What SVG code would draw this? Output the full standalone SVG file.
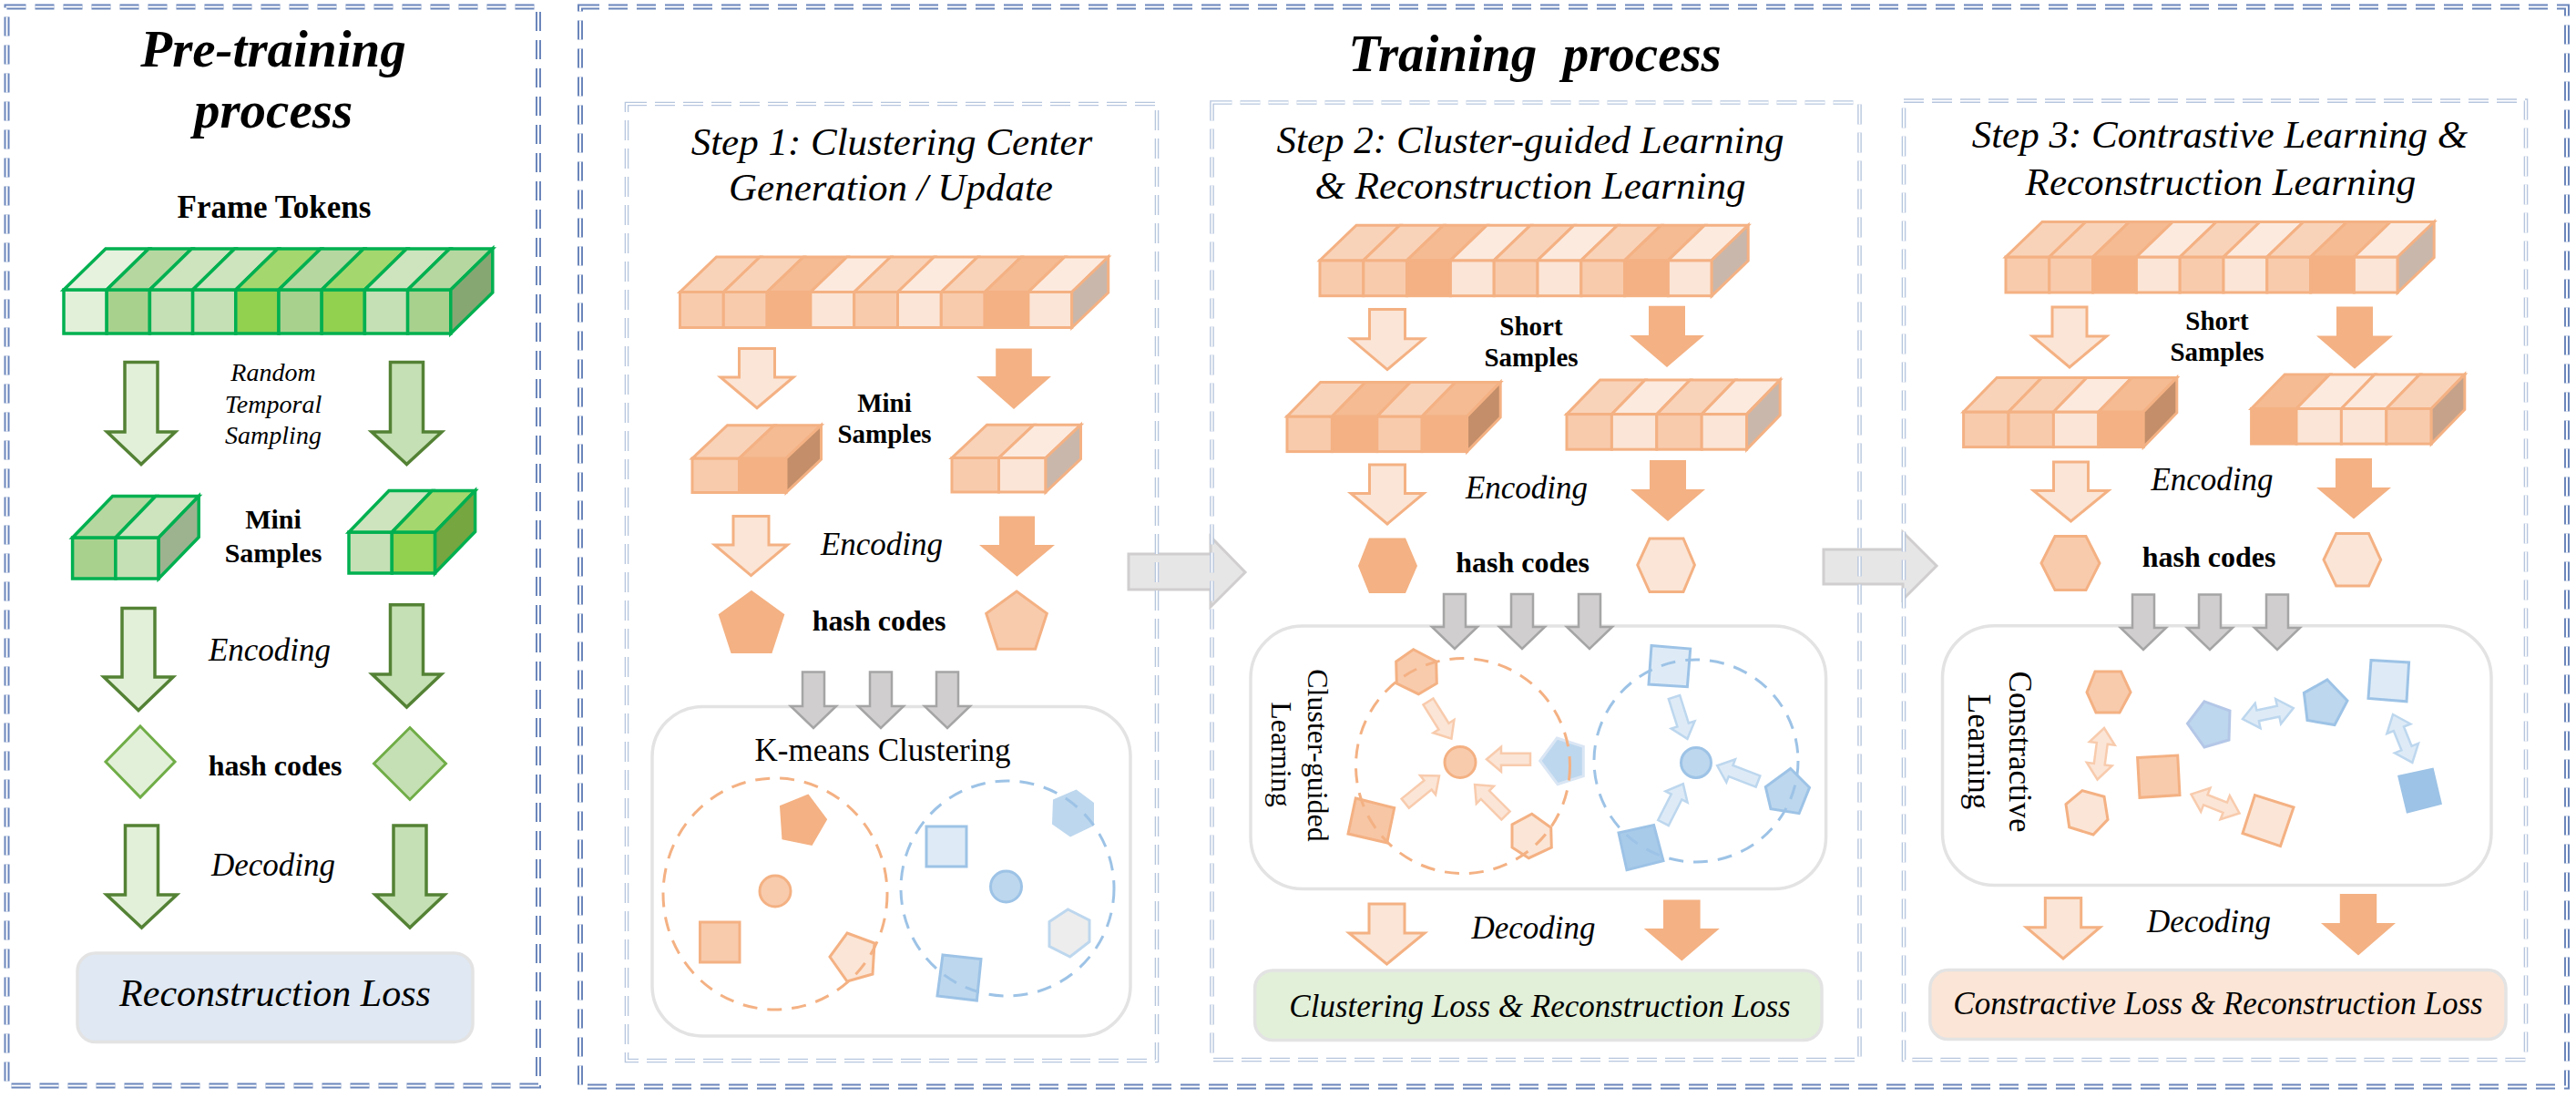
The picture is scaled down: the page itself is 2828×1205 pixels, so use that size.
<svg xmlns="http://www.w3.org/2000/svg" xmlns:xlink="http://www.w3.org/1999/xlink" width="2828" height="1205" viewBox="0 0 2828 1205">
<style>
text{font-family:"Liberation Serif","Times New Roman",serif;fill:#000}
.bi{font-weight:bold;font-style:italic}
.it{font-style:italic}
.b{font-weight:bold}
.ob{fill:none;stroke:#6b86bb;stroke-width:6;stroke-dasharray:21 10}
.obw{fill:none;stroke:#fff;stroke-width:2;stroke-dasharray:21 10}
.sb{fill:none;stroke:#b7c6de;stroke-width:4.6;stroke-dasharray:22 9}
.sbw{fill:none;stroke:#fff;stroke-width:1.8;stroke-dasharray:22 9}
.gc{stroke:#00B050;stroke-width:3.5}
.oc{stroke:#F4B183;stroke-width:3}
.ga{stroke:#548235;stroke-width:3.5}
.oao{fill:#FBE5D6;stroke:#F4B183;stroke-width:3}
.oas{fill:#F4B183}
.gr{fill:#D0CECE;stroke:#A5A5A5;stroke-width:2.5}
.big{fill:#E7E6E6;stroke:#D0CECE;stroke-width:3}
.panel{fill:#fff;stroke:#E3E3E3;stroke-width:3.5}
.os{stroke:#F4B183;stroke-width:3}
.bs{stroke:#9DC3E6;stroke-width:3}
.odash{fill:none;stroke:#F4B183;stroke-width:3;stroke-dasharray:16 11}
.bdash{fill:none;stroke:#9DC3E6;stroke-width:3;stroke-dasharray:16 11}
.la{fill:#FBE5D6;stroke:#F8CBAD;stroke-width:2.5}
.lb{fill:#DEEBF7;stroke:#BDD7EE;stroke-width:2.5}
</style>
<defs>
<g id="strip9" class="oc">
<rect x="0" y="0" width="47.8" height="39" fill="#F8CBAD"/>
<rect x="47.8" y="0" width="47.8" height="39" fill="#F8CBAD"/>
<rect x="95.6" y="0" width="47.8" height="39" fill="#F4B183"/>
<rect x="143.4" y="0" width="47.8" height="39" fill="#FBE5D6"/>
<rect x="191.2" y="0" width="47.8" height="39" fill="#F8CBAD"/>
<rect x="239" y="0" width="47.8" height="39" fill="#FBE5D6"/>
<rect x="286.8" y="0" width="47.8" height="39" fill="#F8CBAD"/>
<rect x="334.6" y="0" width="47.8" height="39" fill="#F4B183"/>
<rect x="382.4" y="0" width="47.8" height="39" fill="#FBE5D6"/>
<polygon points="0,0 47.8,0 87.8,-38.5 40,-38.5" fill="#F9D3B9"/>
<polygon points="47.8,0 95.6,0 135.6,-38.5 87.8,-38.5" fill="#F9D3B9"/>
<polygon points="95.6,0 143.4,0 183.4,-38.5 135.6,-38.5" fill="#F5BB93"/>
<polygon points="143.4,0 191.2,0 231.2,-38.5 183.4,-38.5" fill="#FCEADF"/>
<polygon points="191.2,0 239,0 279,-38.5 231.2,-38.5" fill="#F9D3B9"/>
<polygon points="239,0 286.8,0 326.8,-38.5 279,-38.5" fill="#FCEADF"/>
<polygon points="286.8,0 334.6,0 374.6,-38.5 326.8,-38.5" fill="#F9D3B9"/>
<polygon points="334.6,0 382.4,0 422.4,-38.5 374.6,-38.5" fill="#F5BB93"/>
<polygon points="382.4,0 430.2,0 470.2,-38.5 422.4,-38.5" fill="#FCEADF"/>
<polygon points="430.2,0 470.2,-38.5 470.2,0.5 430.2,39" fill="#C9B7AB"/>
</g>
<polygon id="sa" points="0,-6.5 32,-6.5 32,-13.5 48,0 32,13.5 32,6.5 0,6.5"/>
<polygon id="da" points="0,0 17,-14 17,-6 40,-6 40,-14 57,0 40,14 40,6 17,6 17,14"/>
</defs>

<g id="connectors">
<polygon class="big" points="1239,608 1329,608 1329,589 1367,628 1329,666 1329,647 1239,647"/>
<polygon class="big" points="2002,603 2089,603 2089,584 2126,621 2089,658 2089,641 2002,641"/>
</g>

<g id="frames">
<rect class="ob" x="7.5" y="7.5" width="583.5" height="1184"/>
<rect class="obw" x="7.5" y="7.5" width="583.5" height="1184"/>
<rect class="ob" x="637" y="7.5" width="2181" height="1185"/>
<rect class="obw" x="637" y="7.5" width="2181" height="1185"/>
<rect class="sb" x="688" y="114" width="582" height="1050"/>
<rect class="sbw" x="688" y="114" width="582" height="1050"/>
<rect class="sb" x="1330.5" y="112.5" width="711" height="1050.5"/>
<rect class="sbw" x="1330.5" y="112.5" width="711" height="1050.5"/>
<rect class="sb" x="2090" y="110.6" width="683" height="1052.4"/>
<rect class="sbw" x="2090" y="110.6" width="683" height="1052.4"/>
</g>

<g id="titles">
<text class="bi" x="300" y="73" font-size="57" text-anchor="middle">Pre-training</text>
<text class="bi" x="300" y="140" font-size="57" text-anchor="middle">process</text>
<text class="bi" x="1685" y="78" font-size="57" text-anchor="middle" xml:space="preserve">Training  process</text>
<text class="it" x="979" y="170" font-size="43" text-anchor="middle">Step 1: Clustering Center</text>
<text class="it" x="978" y="220" font-size="43" text-anchor="middle">Generation / Update</text>
<text class="it" x="1680" y="168" font-size="43" text-anchor="middle">Step 2: Cluster-guided Learning</text>
<text class="it" x="1680" y="218" font-size="43" text-anchor="middle">&amp; Reconstruction Learning</text>
<text class="it" x="2437" y="162" font-size="43" text-anchor="middle">Step 3: Contrastive Learning &amp;</text>
<text class="it" x="2438" y="214" font-size="43" text-anchor="middle">Reconstruction Learning</text>
</g>

<!-- Pre-training -->
<g id="pre-frame-tokens">
<text class="b" x="301" y="239" font-size="35" text-anchor="middle">Frame Tokens</text>
<g transform="translate(70,318)" class="gc">
<rect x="0" y="0" width="47.2" height="48" fill="#E2F0D9"/>
<rect x="47.2" y="0" width="47.2" height="48" fill="#A9D18E"/>
<rect x="94.4" y="0" width="47.2" height="48" fill="#C5E0B4"/>
<rect x="141.6" y="0" width="47.2" height="48" fill="#C5E0B4"/>
<rect x="188.8" y="0" width="47.2" height="48" fill="#92D050"/>
<rect x="236" y="0" width="47.2" height="48" fill="#A9D18E"/>
<rect x="283.2" y="0" width="47.2" height="48" fill="#92D050"/>
<rect x="330.4" y="0" width="47.2" height="48" fill="#C5E0B4"/>
<rect x="377.6" y="0" width="47.2" height="48" fill="#A9D18E"/>
<polygon points="0,0 47.2,0 93.2,-45 46,-45" fill="#E6F2DE"/>
<polygon points="47.2,0 94.4,0 140.4,-45 93.2,-45" fill="#B6D8A0"/>
<polygon points="94.4,0 141.6,0 187.6,-45 140.4,-45" fill="#CDE4BE"/>
<polygon points="141.6,0 188.8,0 234.8,-45 187.6,-45" fill="#CDE4BE"/>
<polygon points="188.8,0 236,0 282,-45 234.8,-45" fill="#A4D86E"/>
<polygon points="236,0 283.2,0 329.2,-45 282,-45" fill="#B6D8A0"/>
<polygon points="283.2,0 330.4,0 376.4,-45 329.2,-45" fill="#A4D86E"/>
<polygon points="330.4,0 377.6,0 423.6,-45 376.4,-45" fill="#CDE4BE"/>
<polygon points="377.6,0 424.8,0 470.8,-45 423.6,-45" fill="#B6D8A0"/>
<polygon points="424.8,0 470.8,-45 470.8,3 424.8,48" fill="#87A772"/>
</g>
</g>
<g id="pre-sampling-label">
<text class="it" x="300" y="418" font-size="28" text-anchor="middle">Random</text>
<text class="it" x="300" y="452.7" font-size="28" text-anchor="middle">Temporal</text>
<text class="it" x="300" y="487" font-size="28" text-anchor="middle">Sampling</text>
</g>
<g id="pre-mini-samples">
<g transform="translate(79.6,590)" class="gc">
<rect x="0" y="0" width="47.3" height="45" fill="#A9D18E"/>
<rect x="47.3" y="0" width="47.3" height="45" fill="#C5E0B4"/>
<polygon points="0,0 47.3,0 91.3,-45.5 44,-45.5" fill="#B6D8A0"/>
<polygon points="47.3,0 94.6,0 138.6,-45.5 91.3,-45.5" fill="#CDE4BE"/>
<polygon points="94.6,0 138.6,-45.5 138.6,-0.5 94.6,45" fill="#9DB390"/>
</g>
<g transform="translate(383,584)" class="gc">
<rect x="0" y="0" width="47.3" height="45" fill="#C5E0B4"/>
<rect x="47.3" y="0" width="47.3" height="45" fill="#92D050"/>
<polygon points="0,0 47.3,0 91.3,-45.5 44,-45.5" fill="#CDE4BE"/>
<polygon points="47.3,0 94.6,0 138.6,-45.5 91.3,-45.5" fill="#A4D86E"/>
<polygon points="94.6,0 138.6,-45.5 138.6,-0.5 94.6,45" fill="#75A640"/>
</g>
<text class="b" x="300" y="580" font-size="30" text-anchor="middle">Mini</text>
<text class="b" x="300" y="617" font-size="30" text-anchor="middle">Samples</text>
</g>
<g id="pre-encoding-label"><text class="it" x="296" y="725" font-size="35" text-anchor="middle">Encoding</text></g>
<g id="pre-hash-codes">
<polygon points="154,797 192,836 154,875 116,836" fill="#E2F0D9" stroke="#70AD47" stroke-width="3"/>
<polygon points="450,798.5 489.5,838 450,877.5 410.5,838" fill="#C5E0B4" stroke="#70AD47" stroke-width="3"/>
<text class="b" x="302" y="851" font-size="32" text-anchor="middle">hash codes</text>
</g>
<g id="pre-decoding-label"><text class="it" x="300" y="961" font-size="35" text-anchor="middle">Decoding</text></g>
<g id="pre-loss">
<rect x="85" y="1046" width="434" height="97.5" rx="20" fill="#DFE8F3" stroke="#E3E3E3" stroke-width="3.5"/>
<text class="it" x="302" y="1104" font-size="42" text-anchor="middle">Reconstruction Loss</text>
</g>

<!-- Step 1 -->
<g id="s1-tokens"><use href="#strip9" transform="translate(746.5,320.5)"/></g>
<g id="s1-mini-samples">
<g transform="translate(760,503)" class="oc">
<rect x="0" y="0" width="51.5" height="37.5" fill="#F8CBAD"/>
<rect x="51.5" y="0" width="51.5" height="37.5" fill="#F4B183"/>
<polygon points="0,0 51.5,0 90,-36.3 38.5,-36.3" fill="#F9D3B9"/>
<polygon points="51.5,0 103,0 141.5,-36.3 90,-36.3" fill="#F5BB93"/>
<polygon points="103,0 141.5,-36.3 141.5,1.2 103,37.5" fill="#C38E69"/>
</g>
<g transform="translate(1045,502.5)" class="oc">
<rect x="0" y="0" width="51.5" height="37.5" fill="#F8CBAD"/>
<rect x="51.5" y="0" width="51.5" height="37.5" fill="#FBE5D6"/>
<polygon points="0,0 51.5,0 90,-36.3 38.5,-36.3" fill="#F9D3B9"/>
<polygon points="51.5,0 103,0 141.5,-36.3 90,-36.3" fill="#FCEADF"/>
<polygon points="103,0 141.5,-36.3 141.5,1.2 103,37.5" fill="#C9B7AB"/>
</g>
<text class="b" x="971" y="451.5" font-size="29" text-anchor="middle">Mini</text>
<text class="b" x="971" y="486" font-size="29" text-anchor="middle">Samples</text>
</g>
<g id="s1-encoding-label"><text class="it" x="968" y="608.5" font-size="35" text-anchor="middle">Encoding</text></g>
<g id="s1-hash-codes">
<polygon points="825,649 860.2,674.6 846.7,715.9 803.3,715.9 789.8,674.6" fill="#F4B183" stroke="#F4B183" stroke-width="2"/>
<polygon points="1116,649 1149.3,673.2 1136.6,712.3 1095.4,712.3 1082.7,673.2" fill="#F8CBAD" class="os"/>
<text class="b" x="965" y="692" font-size="32" text-anchor="middle">hash codes</text>
</g>
<g id="s1-kmeans">
<rect class="panel" x="716" y="775.5" width="525" height="361.5" rx="55"/>
<text x="969" y="835" font-size="35" text-anchor="middle">K-means Clustering</text>
<polygon points="887,872.6 907,899.4 891,927 859.4,920.5 857,885" fill="#F4B183" stroke="#F4B183" stroke-width="2"/>
<circle cx="851" cy="978" r="17" fill="#F8CBAD" class="os"/>
<rect x="768.5" y="1012" width="43.5" height="44" fill="#F8CBAD" class="os"/>
<polygon points="930,1024 960,1035 958,1069 930,1077 911,1050" fill="#FBE5D6" class="os"/>
<rect x="1017" y="907" width="44" height="44" fill="#DEEBF7" class="bs"/>
<polygon points="1181.6,866.6 1201,881 1201,906 1175,918.5 1155,904.5 1156,877.6" fill="#BDD7EE"/>
<circle cx="1104.5" cy="973" r="17" fill="#BDD7EE" class="bs"/>
<polygon points="1172.4,998 1196,1010 1196,1033.4 1174.7,1050 1152,1038.5 1152,1011.6" fill="#EDEDED" stroke="#BDD7EE" stroke-width="3"/>
<polygon points="1035,1048 1077,1052.5 1072.4,1098 1029,1093" fill="#BDD7EE" class="bs"/>
<ellipse class="odash" cx="851" cy="981" rx="123" ry="127"/>
<ellipse class="bdash" cx="1106" cy="975" rx="117" ry="118"/>
</g>

<!-- Step 2 -->
<g id="s2-tokens"><use href="#strip9" transform="translate(1449,285.7)"/></g>
<g id="s2-short-samples">
<g transform="translate(1413,457)" class="oc">
<rect x="0" y="0" width="49.4" height="38.6" fill="#F8CBAD"/>
<rect x="49.4" y="0" width="49.4" height="38.6" fill="#F4B183"/>
<rect x="98.8" y="0" width="49.4" height="38.6" fill="#F8CBAD"/>
<rect x="148.2" y="0" width="49.4" height="38.6" fill="#F4B183"/>
<polygon points="0,0 49.4,0 86,-37.6 36.6,-37.6" fill="#F9D3B9"/>
<polygon points="49.4,0 98.8,0 135.4,-37.6 86,-37.6" fill="#F5BB93"/>
<polygon points="98.8,0 148.2,0 184.8,-37.6 135.4,-37.6" fill="#F9D3B9"/>
<polygon points="148.2,0 197.6,0 234.2,-37.6 184.8,-37.6" fill="#F5BB93"/>
<polygon points="197.6,0 234.2,-37.6 234.2,1 197.6,38.6" fill="#C38E69"/>
</g>
<g transform="translate(1720,454.6)" class="oc">
<rect x="0" y="0" width="49.4" height="38.6" fill="#F8CBAD"/>
<rect x="49.4" y="0" width="49.4" height="38.6" fill="#FBE5D6"/>
<rect x="98.8" y="0" width="49.4" height="38.6" fill="#F8CBAD"/>
<rect x="148.2" y="0" width="49.4" height="38.6" fill="#FBE5D6"/>
<polygon points="0,0 49.4,0 86,-37.6 36.6,-37.6" fill="#F9D3B9"/>
<polygon points="49.4,0 98.8,0 135.4,-37.6 86,-37.6" fill="#FCEADF"/>
<polygon points="98.8,0 148.2,0 184.8,-37.6 135.4,-37.6" fill="#F9D3B9"/>
<polygon points="148.2,0 197.6,0 234.2,-37.6 184.8,-37.6" fill="#FCEADF"/>
<polygon points="197.6,0 234.2,-37.6 234.2,1 197.6,38.6" fill="#C9B7AB"/>
</g>
<text class="b" x="1681" y="368" font-size="29" text-anchor="middle">Short</text>
<text class="b" x="1681" y="401.7" font-size="29" text-anchor="middle">Samples</text>
</g>
<g id="s2-encoding-label"><text class="it" x="1676" y="546.5" font-size="35" text-anchor="middle">Encoding</text></g>
<g id="s2-hash-codes">
<polygon points="1503,590.5 1543,590.5 1556,621 1543,651 1503,651 1491,621" fill="#F4B183"/>
<polygon points="1811,591 1848,591 1860.4,620 1848,649.5 1811,649.5 1797.7,620" fill="#FBE5D6" class="os"/>
<text class="b" x="1671.6" y="628" font-size="32" text-anchor="middle">hash codes</text>
</g>
<g id="s2-cluster-guided">
<rect class="panel" x="1373" y="687" width="631.6" height="288.5" rx="57"/>
<text font-size="32" text-anchor="middle" transform="translate(1435.6,829) rotate(90)">Cluster-guided</text>
<text font-size="32" text-anchor="middle" transform="translate(1396,828) rotate(90)">Learning</text>
<polygon points="1551.7,712.7 1576.7,726 1577.3,750 1557.3,761.7 1533.3,750 1532.7,726" fill="#F8CBAD" class="os"/>
<circle cx="1603" cy="836.5" r="17" fill="#F8CBAD" class="os"/>
<polygon points="1488.3,876 1530.7,886.7 1522.7,925 1480,915" fill="#F7C6A5" class="os"/>
<polygon points="1681.7,893.3 1702.7,908.3 1703.3,930 1678.3,941.7 1660,930 1660,905" fill="#FBE5D6" class="os"/>
<polygon points="1709.3,810 1738.3,819.3 1738.3,851.7 1710,860.7 1690.7,835" fill="#BDD7EE" stroke="#DAE6F4" stroke-width="3"/>
<polygon points="1813,708.5 1855.7,712 1852.4,753.7 1810,751" fill="#DEEBF7" class="bs"/>
<circle cx="1862" cy="837" r="16.5" fill="#BDD7EE" class="bs"/>
<polygon points="1965.7,843.5 1986.5,864.3 1975.1,892.7 1944,887.7 1938.3,863.6" fill="#BDD7EE" class="bs"/>
<polygon points="1777,914 1815.6,905.5 1826,944.7 1786,954.7" fill="#A9CBEA" class="bs"/>
<use href="#sa" class="la" transform="translate(1568,770) rotate(58)"/>
<use href="#sa" class="la" transform="translate(1680,833.3) rotate(180)"/>
<use href="#sa" class="la" transform="translate(1542.7,881.7) rotate(-39)"/>
<use href="#sa" class="la" transform="translate(1653,895) rotate(-135)"/>
<use href="#sa" class="lb" transform="translate(1838,765) rotate(72.5)"/>
<use href="#sa" class="lb" transform="translate(1930,857.5) rotate(-159)"/>
<use href="#sa" class="lb" transform="translate(1826,903) rotate(-63)"/>
<ellipse class="odash" cx="1606" cy="840.6" rx="117.5" ry="118"/>
<ellipse class="bdash" cx="1862" cy="835" rx="112" ry="111"/>
</g>
<g id="s2-decoding-label"><text class="it" x="1683.5" y="1030" font-size="35" text-anchor="middle">Decoding</text></g>
<g id="s2-loss">
<rect x="1377.6" y="1065" width="622.4" height="76.6" rx="20" fill="#E2F0D9" stroke="#E3E3E3" stroke-width="3.5"/>
<text class="it" x="1690.5" y="1115.5" font-size="35" text-anchor="middle">Clustering Loss &amp; Reconstruction Loss</text>
</g>

<!-- Step 3 -->
<g id="s3-tokens"><use href="#strip9" transform="translate(2202,282)"/></g>
<g id="s3-short-samples">
<g transform="translate(2155.6,452)" class="oc">
<rect x="0" y="0" width="49.4" height="38.6" fill="#F8CBAD"/>
<rect x="49.4" y="0" width="49.4" height="38.6" fill="#F8CBAD"/>
<rect x="98.8" y="0" width="49.4" height="38.6" fill="#FBE5D6"/>
<rect x="148.2" y="0" width="49.4" height="38.6" fill="#F4B183"/>
<polygon points="0,0 49.4,0 86,-37.6 36.6,-37.6" fill="#F9D3B9"/>
<polygon points="49.4,0 98.8,0 135.4,-37.6 86,-37.6" fill="#F9D3B9"/>
<polygon points="98.8,0 148.2,0 184.8,-37.6 135.4,-37.6" fill="#FCEADF"/>
<polygon points="148.2,0 197.6,0 234.2,-37.6 184.8,-37.6" fill="#F5BB93"/>
<polygon points="197.6,0 234.2,-37.6 234.2,1 197.6,38.6" fill="#C38E69"/>
</g>
<g transform="translate(2471.6,448.5)" class="oc">
<rect x="0" y="0" width="49.4" height="38.6" fill="#F4B183"/>
<rect x="49.4" y="0" width="49.4" height="38.6" fill="#FBE5D6"/>
<rect x="98.8" y="0" width="49.4" height="38.6" fill="#FBE5D6"/>
<rect x="148.2" y="0" width="49.4" height="38.6" fill="#F8CBAD"/>
<polygon points="0,0 49.4,0 86,-37.6 36.6,-37.6" fill="#F5BB93"/>
<polygon points="49.4,0 98.8,0 135.4,-37.6 86,-37.6" fill="#FCEADF"/>
<polygon points="98.8,0 148.2,0 184.8,-37.6 135.4,-37.6" fill="#FCEADF"/>
<polygon points="148.2,0 197.6,0 234.2,-37.6 184.8,-37.6" fill="#F9D3B9"/>
<polygon points="197.6,0 234.2,-37.6 234.2,1 197.6,38.6" fill="#C6A28A"/>
</g>
<text class="b" x="2434" y="361.5" font-size="29" text-anchor="middle">Short</text>
<text class="b" x="2434" y="396" font-size="29" text-anchor="middle">Samples</text>
</g>
<g id="s3-encoding-label"><text class="it" x="2428.5" y="537.7" font-size="35" text-anchor="middle">Encoding</text></g>
<g id="s3-hash-codes">
<polygon points="2256,588.6 2290,588.6 2305,618 2290,647.6 2256,647.6 2241,618" fill="#F8CBAD" class="os"/>
<polygon points="2564.7,585.6 2600.5,585.6 2613.7,614.3 2600.5,643 2564.7,643 2551,614.3" fill="#FBE5D6" class="os"/>
<text class="b" x="2425" y="622" font-size="32" text-anchor="middle">hash codes</text>
</g>
<g id="s3-contrastive">
<rect class="panel" x="2132.5" y="686.7" width="602.5" height="284.8" rx="57"/>
<text font-size="35" text-anchor="middle" transform="translate(2205.5,825) rotate(90)">Constractive</text>
<text font-size="35" text-anchor="middle" transform="translate(2161,825) rotate(90)">Learning</text>
<polygon points="2300,737 2328.5,737 2339,759.7 2327,782 2301,782 2291,759.7" fill="#F8CBAD" class="os"/>
<polygon points="2286,867.6 2310,874.3 2314,899.4 2298,916 2271.7,907.8 2268,882.7" fill="#FBE5D6" class="os"/>
<polygon points="2346.6,831.4 2390.7,829 2393,872.6 2349,875.3" fill="#F8CBAD" class="os"/>
<polygon points="2475.5,872.6 2518,886 2503.5,928.6 2462,914.5" fill="#FBE5D6" class="os"/>
<polygon points="2420,769.8 2448,780 2447,812 2420,820 2401.5,794" fill="#BDD7EE" stroke="#B4C7E7" stroke-width="3"/>
<polygon points="2555,746 2577,769 2563,795.6 2533,790.5 2529.4,760.4" fill="#BDD7EE" class="bs"/>
<polygon points="2603,724.6 2644.6,727 2642,769.8 2600,766.4" fill="#DEEBF7" class="bs"/>
<polygon points="2632,851 2671.5,842.5 2681,882.7 2642,892.7" fill="#9DC3E6"/>
<use href="#da" class="la" transform="translate(2310,799) rotate(97.5)"/>
<use href="#da" class="la" transform="translate(2405.5,871.6) rotate(21.5)"/>
<use href="#da" class="lb" transform="translate(2462,789) rotate(-12)"/>
<use href="#da" class="lb" transform="translate(2627,784) rotate(68)"/>
</g>
<g id="s3-decoding-label"><text class="it" x="2425" y="1023" font-size="35" text-anchor="middle">Decoding</text></g>
<g id="s3-loss">
<rect x="2118.8" y="1064.6" width="632.2" height="76" rx="20" fill="#FBE5D6" stroke="#E3E3E3" stroke-width="3.5"/>
<text class="it" x="2435" y="1113" font-size="35" text-anchor="middle">Constractive Loss &amp; Reconstruction Loss</text>
</g>

<g id="flow-arrows">
<polygon class="ga" fill="#E2F0D9" points="137,397.5 173,397.5 173,474 192.5,474 155,509.5 117.5,474 137,474"/>
<polygon class="ga" fill="#C5E0B4" points="428.5,397.5 464.5,397.5 464.5,474 485,474 446.5,509.5 408,474 428.5,474"/>
<polygon class="ga" fill="#E2F0D9" points="134,667.5 170,667.5 170,743 190,743 152,779.5 114,743 134,743"/>
<polygon class="ga" fill="#C5E0B4" points="428.5,663.7 464.5,663.7 464.5,740 484.5,740 446.5,776 408.5,740 428.5,740"/>
<polygon class="ga" fill="#E2F0D9" points="137.5,906 173.5,906 173.5,982 194,982 155.5,1018 117,982 137.5,982"/>
<polygon class="ga" fill="#C5E0B4" points="432,906 468,906 468,982 488,982 450,1018 412,982 432,982"/>
<polygon class="oao" points="811.5,382.6 850.5,382.6 850.5,414 871,414 831,447.7 791,414 811.5,414"/>
<polygon class="oas" points="1093.2,382.6 1132.8,382.6 1132.8,413 1154,413 1113,449 1072,413 1093.2,413"/>
<polygon class="oao" points="805,566.6 844,566.6 844,598 864.5,598 824.5,631.6 784.5,598 805,598"/>
<polygon class="oas" points="1097,566.6 1136,566.6 1136,598 1158,598 1116.5,632.7 1075,598 1097,598"/>
<polygon class="oao" points="1503.5,339.6 1542.5,339.6 1542.5,371.8 1563,371.8 1523,405.6 1483,371.8 1503.5,371.8"/>
<polygon class="oas" points="1810,335.8 1850,335.8 1850,368 1871,368 1830,403 1789,368 1810,368"/>
<polygon class="oao" points="1503.5,510 1542.5,510 1542.5,541.5 1563,541.5 1523,575 1483,541.5 1503.5,541.5"/>
<polygon class="oas" points="1811,505 1851,505 1851,537 1872,537 1831,572 1790,537 1811,537"/>
<polygon class="oao" points="1503,992 1542,992 1542,1024 1564,1024 1522.5,1058 1481,1024 1503,1024"/>
<polygon class="oas" points="1826,987.5 1866.6,987.5 1866.6,1019 1887.8,1019 1846.3,1054.5 1804.8,1019 1826,1019"/>
<polygon class="oao" points="2253,337 2291,337 2291,369 2312.7,369 2272,403 2231.3,369 2253,369"/>
<polygon class="oas" points="2565,336.6 2605,336.6 2605,368.4 2627,368.4 2585,404.8 2543,368.4 2565,368.4"/>
<polygon class="oao" points="2254.5,507 2292.5,507 2292.5,538.5 2314.5,538.5 2273.5,572 2232.5,538.5 2254.5,538.5"/>
<polygon class="oas" points="2564,503 2604,503 2604,535 2625,535 2584,569.5 2543,535 2564,535"/>
<polygon class="oao" points="2245.3,985.5 2284.7,985.5 2284.7,1017.7 2305.5,1017.7 2265,1052 2224.5,1017.7 2245.3,1017.7"/>
<polygon class="oas" points="2568.8,981 2609.2,981 2609.2,1013 2630,1013 2589,1048.5 2548,1013 2568.8,1013"/>
<polygon class="gr" points="881,737.6 905,737.6 905,775 918,775 893,799 868,775 881,775"/>
<polygon class="gr" points="955,737.6 979,737.6 979,775 992,775 967,799 942,775 955,775"/>
<polygon class="gr" points="1028,737.6 1052,737.6 1052,775 1065,775 1040,799 1015,775 1028,775"/>
<polygon class="gr" points="1585,652 1609,652 1609,688 1622,688 1597,712 1572,688 1585,688"/>
<polygon class="gr" points="1659,652 1683,652 1683,688 1696,688 1671,712 1646,688 1659,688"/>
<polygon class="gr" points="1733,652 1757,652 1757,688 1770,688 1745,712 1720,688 1733,688"/>
<polygon class="gr" points="2341,652.6 2365,652.6 2365,689 2378,689 2353,713 2328,689 2341,689"/>
<polygon class="gr" points="2414,652.6 2438,652.6 2438,689 2451,689 2426,713 2401,689 2414,689"/>
<polygon class="gr" points="2488,652.6 2512,652.6 2512,689 2525,689 2500,713 2475,689 2488,689"/>
</g>
</svg>
